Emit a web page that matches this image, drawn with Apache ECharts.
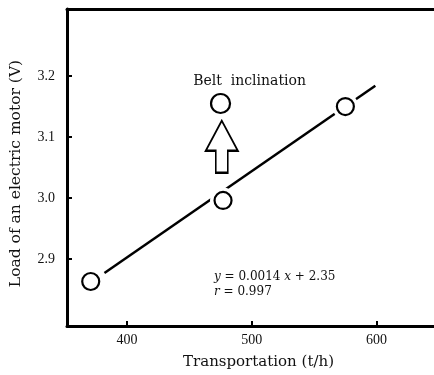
<!DOCTYPE html>
<html>
<head>
<meta charset="utf-8">
<script src="https://cdn.jsdelivr.net/npm/echarts@6/dist/echarts.min.js"></script>
<style>
html,body{margin:0;padding:0;background:#fff;}
#c{width:434px;height:375px;}
</style>
</head>
<body>
<div id="c"></div>
<script>
// Data
const xTicks = [400, 500, 600];
const yTicks = [2.9, 3.0, 3.1, 3.2];
const measured = [[371, 2.863], [477, 2.996], [575, 3.15]];
const inclined = [[475, 3.155]];
const fitLine = [[382, 2.877], [599, 3.184]];
const arrowAt = [[476, 3.084]];

const serif = '"Liberation Serif", "DejaVu Serif", serif';
const wide = '"DejaVu Serif", "Liberation Serif", serif';
const chart = echarts.init(document.getElementById('c'));

chart.setOption({
  animation: false,
  backgroundColor: '#fff',
  grid: { left: 65, right: 0, top: 9, bottom: 47 },
  xAxis: [{
    type: 'value', min: 352, max: 646,
    name: 'Transportation (t/h)', nameLocation: 'middle', nameGap: 29,
    nameTextStyle: { fontFamily: wide, fontSize: 15, color: '#111', padding: [0, 0, 0, 16] },
    axisLine: { show: true, onZero: false, lineStyle: { color: '#000', width: 3 } },
    axisTick: { show: true, inside: true, length: 5, lineStyle: { color: '#000', width: 2 }, customValues: xTicks },
    axisLabel: { fontFamily: serif, fontSize: 14, color: '#111', margin: 7, customValues: xTicks },
    splitLine: { show: false }
  }, {
    type: 'value', position: 'top', min: 352, max: 646,
    axisLine: { show: true, onZero: false, lineStyle: { color: '#000', width: 3 } },
    axisTick: { show: false }, axisLabel: { show: false }, splitLine: { show: false }
  }],
  yAxis: {
    type: 'value', min: 2.79, max: 3.31,
    name: 'Load of an electric motor (V)', nameLocation: 'middle', nameGap: 43, nameRotate: 90,
    nameTextStyle: { fontFamily: wide, fontSize: 15.5, color: '#111', padding: [0, 12, 0, 0] },
    axisLine: { show: true, onZero: false, lineStyle: { color: '#000', width: 3 } },
    axisTick: { show: true, inside: true, length: 5, lineStyle: { color: '#000', width: 2 }, customValues: yTicks },
    axisLabel: { fontFamily: serif, fontSize: 14, color: '#111', margin: 12, customValues: yTicks,
      formatter: v => v.toFixed(1) },
    splitLine: { show: false }
  },
  series: [
    { type: 'line', data: fitLine, symbol: 'none', lineStyle: { color: '#000', width: 2.5 }, z: 2 },
    { type: 'scatter', data: measured.concat(inclined), symbolSize: 26,
      itemStyle: { color: '#fff', opacity: 1 }, z: 3, silent: true },
    { type: 'scatter', data: measured, symbolSize: 17,
      itemStyle: { color: '#fff', borderColor: '#000', borderWidth: 2.2, opacity: 1 }, z: 4 },
    { type: 'scatter', data: inclined, symbolSize: 19,
      itemStyle: { color: '#fff', borderColor: '#000', borderWidth: 2.2, opacity: 1 }, z: 4,
      label: { show: true, position: 'top', distance: 5, offset: [29, 0], formatter: 'Belt  inclination',
        fontFamily: wide, fontSize: 14, color: '#111' } },
    { type: 'scatter', data: arrowAt,
      symbol: 'path://M16,0 L32,30 L22,30 L22,52 L10,52 L10,30 L0,30 Z',
      symbolSize: [32, 52], symbolKeepAspect: false,
      itemStyle: { color: '#fff', borderColor: '#000', borderWidth: 2, opacity: 1 }, z: 4 }
  ],
  graphic: [
    { type: 'text', left: 214, top: 271, z: 10, style: {
      text: '{i|y} = 0.0014 {i|x} + 2.35', fontFamily: wide, fontSize: 12, fill: '#111',
      rich: { i: { fontStyle: 'italic', fontFamily: wide, fontSize: 12 } } } },
    { type: 'text', left: 214, top: 286, z: 10, style: {
      text: '{i|r} = 0.997', fontFamily: wide, fontSize: 12, fill: '#111',
      rich: { i: { fontStyle: 'italic', fontFamily: wide, fontSize: 12 } } } }
  ]
});
</script>
</body>
</html>
